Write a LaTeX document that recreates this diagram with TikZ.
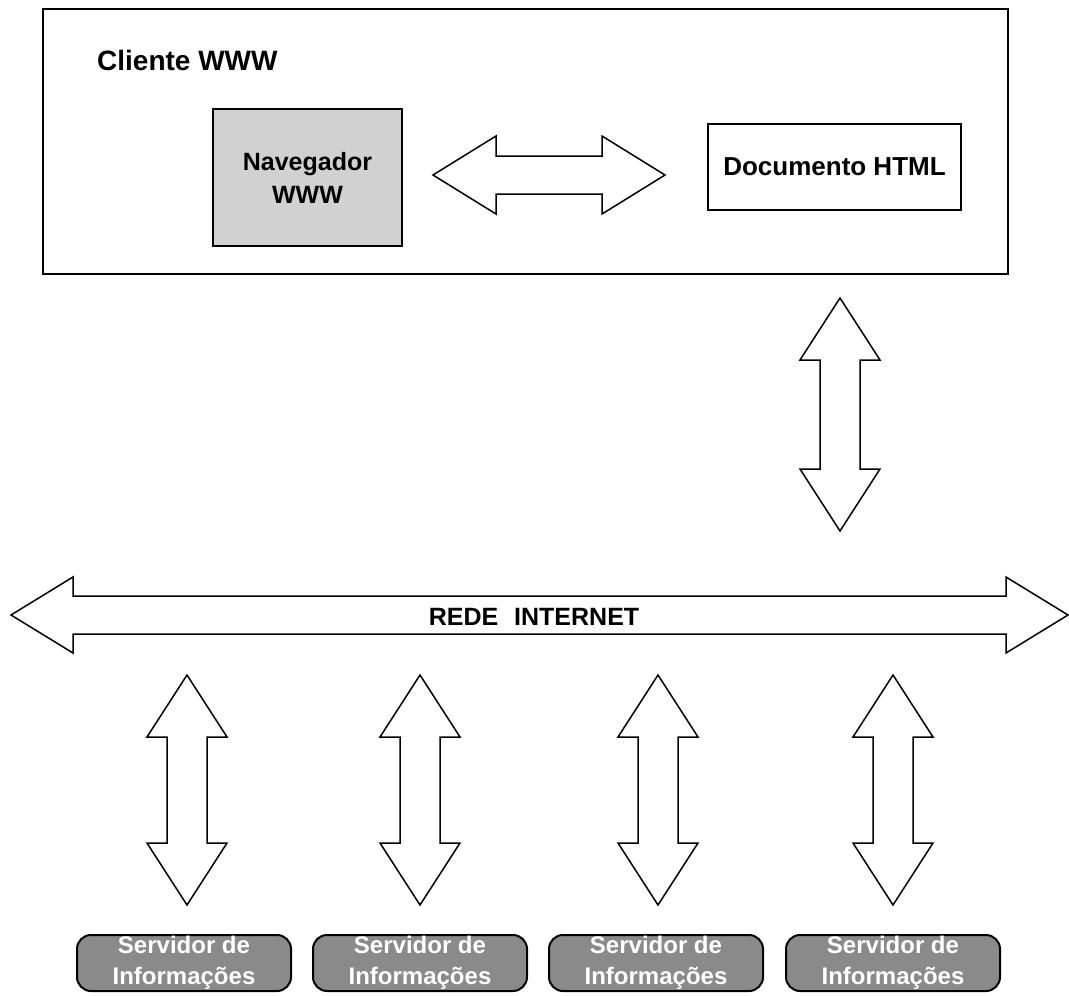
\documentclass[tikz,border=0pt]{standalone}
\usepackage{fontspec}
\setmainfont{Liberation Sans}
\usetikzlibrary{calc}

% Fat double-headed arrow outline from tip #1 to tip #2:
% #3 = shaft half-width, #4 = head half-width, #5 = head length
\newcommand{\fatdouble}[5]{%
  \draw[fatarrow]
    (#1)
    -- ($(#1)!#5!(#2)!#4!90:(#2)$)
    -- ($(#1)!#5!(#2)!#3!90:(#2)$)
    -- ($(#2)!#5!(#1)!#3!-90:(#1)$)
    -- ($(#2)!#5!(#1)!#4!-90:(#1)$)
    -- (#2)
    -- ($(#2)!#5!(#1)!#4!90:(#1)$)
    -- ($(#2)!#5!(#1)!#3!90:(#1)$)
    -- ($(#1)!#5!(#2)!#3!-90:(#2)$)
    -- ($(#1)!#5!(#2)!#4!-90:(#2)$)
    -- cycle;}

\tikzset{
  fatarrow/.style={draw=black, fill=white, line width=1.5pt, line join=miter},
  framebox/.style={draw=black, line width=2pt, inner sep=0pt, rectangle},
  navbox/.style={framebox, fill=black!18, align=center,
    font=\bfseries\fontsize{25}{33}\selectfont},
  docbox/.style={framebox, fill=white,
    font=\bfseries\fontsize{26}{31}\selectfont},
  serverbox/.style={draw=black, line width=2pt, rounded corners=14pt,
    fill=black!46, text=white, align=center, inner sep=0pt,
    minimum width=214pt, minimum height=56pt,
    font=\bfseries\fontsize{24}{31}\selectfont},
  titletext/.style={font=\bfseries\fontsize{28}{34}\selectfont, inner sep=0pt},
  nettext/.style={font=\bfseries\fontsize{25}{30}\selectfont, inner sep=0pt}
}

\begin{document}
\begin{tikzpicture}[x=1pt, y=-1pt]
  \useasboundingbox (0,0) rectangle (1069,996);

  % client area
  \node[framebox, minimum width=965pt, minimum height=265pt] (client) at (525.5,141.5) {};
  \node[titletext, anchor=west] (clientlabel) at (97,60) {Cliente WWW};
  \node[navbox, minimum width=189pt, minimum height=137pt] (nav) at (307.5,177.5)
    {Navegador\\WWW};
  \node[docbox, minimum width=253pt, minimum height=86pt] (doc) at (834.5,167)
    {Documento HTML};

  % information servers
  \node[serverbox] (s1) at (184,963) {Servidor de\\Informações};
  \node[serverbox] (s2) at (420,963) {Servidor de\\Informações};
  \node[serverbox] (s3) at (656,963) {Servidor de\\Informações};
  \node[serverbox] (s4) at (893,963) {Servidor de\\Informações};

  % arrow end points
  \coordinate (navL) at (433,175);
  \coordinate (navR) at (665,175);
  \coordinate (cliT) at (840,298);
  \coordinate (cliB) at (840,531);
  \coordinate (netL) at (11,615);
  \coordinate (netR) at (1068,615);
  \coordinate (u1) at (187,675);  \coordinate (d1) at (187,905);
  \coordinate (u2) at (420,675);  \coordinate (d2) at (420,905);
  \coordinate (u3) at (658,675);  \coordinate (d3) at (658,905);
  \coordinate (u4) at (893,675);  \coordinate (d4) at (893,905);

  % browser <-> document
  \fatdouble{navL}{navR}{19pt}{39pt}{63pt}
  % client <-> internet
  \fatdouble{cliT}{cliB}{20pt}{40pt}{62pt}
  % internet backbone
  \fatdouble{netL}{netR}{19pt}{38pt}{62pt}
  \node[nettext] (net) at (534,617) {REDE\hspace{16pt}INTERNET};
  % internet <-> servers
  \fatdouble{u1}{d1}{20pt}{40pt}{62pt}
  \fatdouble{u2}{d2}{20pt}{40pt}{62pt}
  \fatdouble{u3}{d3}{20pt}{40pt}{62pt}
  \fatdouble{u4}{d4}{20pt}{40pt}{62pt}
\end{tikzpicture}
\end{document}
